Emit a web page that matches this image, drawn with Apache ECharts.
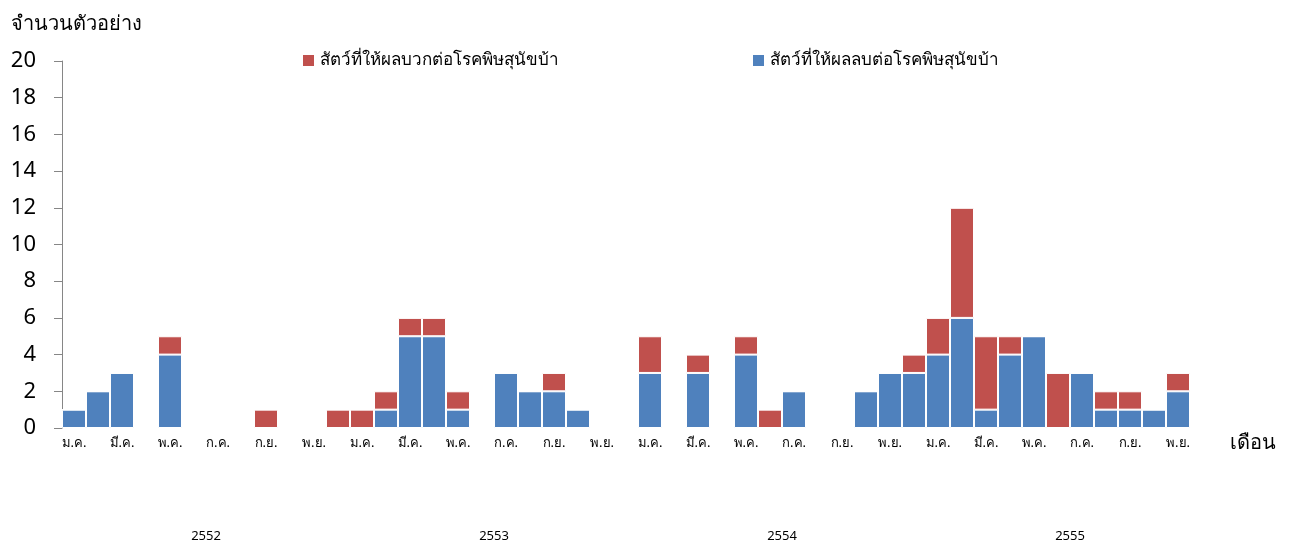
<!DOCTYPE html>
<html>
<head>
<meta charset="utf-8">
<script src="https://cdn.jsdelivr.net/npm/echarts@6/dist/echarts.min.js"></script>
<style>
  html, body { margin: 0; padding: 0; background: #fff; }
  #chart { width: 1292px; height: 540px; }
</style>
</head>
<body>
<div id="chart"></div>
<script>
const years = ['2552', '2553', '2554', '2555'];
const monthNames = ['ม.ค.', 'ก.พ.', 'มี.ค.', 'เม.ย.', 'พ.ค.', 'มิ.ย.', 'ก.ค.', 'ส.ค.', 'ก.ย.', 'ต.ค.', 'พ.ย.', 'ธ.ค.'];
const monthCount = 47;

// สัตว์ที่ให้ผลลบ (blue, bottom of stack)
const negative = [
  1, 2, 3, 0, 4, 0, 0, 0, 0, 0, 0, 0,
  0, 1, 5, 5, 1, 0, 3, 2, 2, 1, 0, 0,
  3, 0, 3, 0, 4, 0, 2, 0, 0, 2, 3, 3,
  4, 6, 1, 4, 5, 0, 3, 1, 1, 1, 2
];
// สัตว์ที่ให้ผลบวก (red, top of stack)
const positive = [
  0, 0, 0, 0, 1, 0, 0, 0, 1, 0, 0, 1,
  1, 1, 1, 1, 1, 0, 0, 0, 1, 0, 0, 0,
  2, 0, 1, 0, 1, 1, 0, 0, 0, 0, 0, 1,
  2, 6, 4, 1, 0, 3, 0, 1, 1, 0, 1
];

const posName = 'สัตว์ที่ให้ผลบวกต่อโรคพิษสุนัขบ้า';
const negName = 'สัตว์ที่ให้ผลลบต่อโรคพิษสุนัขบ้า';

const categories = [];
years.forEach(y => monthNames.forEach(m => categories.push(m)));
categories.length = monthCount;

const chart = echarts.init(document.getElementById('chart'));

const legendBase = {
  top: 47,
  itemWidth: 13,
  itemHeight: 13,
  itemGap: 8,
  icon: 'rect',
  textStyle: { fontSize: 17, color: '#000' }
};

chart.setOption({
  animation: false,
  textStyle: { fontFamily: 'Tahoma, "Noto Sans", sans-serif' },
  title: {
    text: 'จำนวนตัวอย่าง',
    left: 6,
    top: 9,
    textStyle: { fontSize: 20, fontWeight: 'normal', color: '#000' }
  },
  legend: [
    Object.assign({ data: [posName], left: 296 }, legendBase),
    Object.assign({ data: [negName], left: 746 }, legendBase)
  ],
  grid: {
    left: 62,
    right: 102,
    top: 61,
    bottom: 112,
    outerBoundsMode: 'none',
    containLabel: false
  },
  xAxis: [
    {
      type: 'category',
      data: categories,
      name: 'เดือน',
      nameLocation: 'end',
      nameGap: 40,
      nameTextStyle: { fontSize: 20, color: '#000', verticalAlign: 'top', padding: [5, 0, 0, 0] },
      axisLine: { show: false },
      axisTick: { show: false },
      axisLabel: { interval: 1, fontSize: 13, color: '#000', margin: 9 }
    },
    {
      type: 'value',
      position: 'bottom',
      min: 0,
      max: monthCount,
      axisLine: { show: false },
      axisTick: { show: false },
      splitLine: { show: false },
      axisLabel: {
        customValues: years.map((y, i) => i * 12 + 6),
        formatter: v => years[Math.round((v - 6) / 12)],
        fontSize: 13,
        color: '#000',
        margin: 102
      }
    }
  ],
  yAxis: {
    type: 'value',
    min: 0,
    max: 20,
    interval: 2,
    axisLine: { show: true, lineStyle: { color: '#868686', width: 1 } },
    axisTick: { show: true, length: 8, lineStyle: { color: '#868686' } },
    splitLine: { show: false },
    axisLabel: { fontSize: 22, color: '#000', margin: 26 }
  },
  series: [
    {
      name: negName,
      type: 'bar',
      stack: 'total',
      barCategoryGap: '0%',
      data: negative,
      itemStyle: { color: '#4F81BD', borderColor: '#fff', borderWidth: 1 }
    },
    {
      name: posName,
      type: 'bar',
      stack: 'total',
      barCategoryGap: '0%',
      data: positive,
      itemStyle: { color: '#C0504D', borderColor: '#fff', borderWidth: 1 }
    }
  ]
});
</script>
</body>
</html>
